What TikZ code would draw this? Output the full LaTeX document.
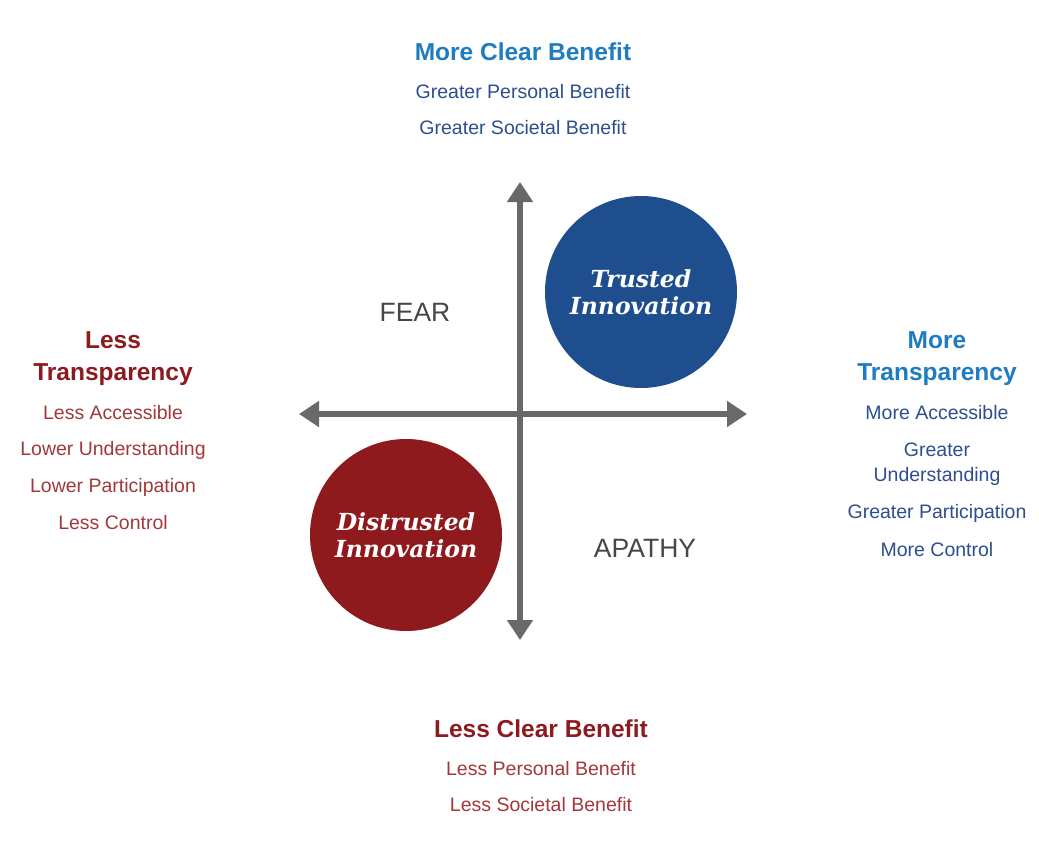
\documentclass[tikz,border=0pt]{standalone}
\usepackage{fontspec}
\setmainfont{Liberation Sans}
\newfontfamily\circfont{DejaVu Serif}
\usetikzlibrary{arrows.meta}
\definecolor{headblue}{HTML}{1F7CC0}
\definecolor{itemblue}{HTML}{2E4E8E}
\definecolor{headred}{HTML}{8B1B1F}
\definecolor{itemred}{HTML}{A3383B}
\definecolor{quadgray}{HTML}{464646}
\definecolor{axisgray}{HTML}{696969}
\definecolor{trustblue}{HTML}{1F4E8E}
\definecolor{distrustred}{HTML}{8F1A1E}
\begin{document}
\begin{tikzpicture}[x=1pt,y=-1pt,
        every node/.style={inner sep=0pt},
        heading/.style={font=\fontsize{24.5}{28}\selectfont\bfseries},
        item/.style={font=\fontsize{19.5}{22}\selectfont},
        quad/.style={font=\fontsize{26.5}{30}\selectfont,text=quadgray},
        innov/.style={circle,minimum size=192pt,text=white,align=center,
            font=\circfont\fontsize{23.5}{27}\selectfont\bfseries\itshape},
        axis/.style={draw=axisgray,line width=6pt,
            {Triangle[width=25pt,length=20pt]}-{Triangle[width=25pt,length=20pt]}}]
    \fill[white] (0,0) rectangle (1039,848);
    \useasboundingbox (0,0) rectangle (1039,848);
    % axes
    \coordinate (top) at (520,182);
    \coordinate (bottom) at (520,640);
    \coordinate (left) at (299,414);
    \coordinate (right) at (747,414);
    \draw[axis] (top) -- (bottom);
    \draw[axis] (left) -- (right);
    % quadrants
    \node[innov,fill=trustblue] (trusted) at (641,292) {Trusted\\Innovation};
    \node[innov,fill=distrustred] (distrusted) at (406,535) {Distrusted\\Innovation};
    \node[quad] (fear) at (415,312) {FEAR};
    \node[quad] (apathy) at (645,548) {APATHY};
    % top
    \node[heading,text=headblue] (moreben) at (523,52) {More Clear Benefit};
    \node[item,text=itemblue] (moreper) at (523,92) {Greater Personal Benefit};
    \node[item,text=itemblue] (moresoc) at (523,128) {Greater Societal Benefit};
    % bottom
    \node[heading,text=headred] (lessben) at (541,729) {Less Clear Benefit};
    \node[item,text=itemred] (lessper) at (541,769) {Less Personal Benefit};
    \node[item,text=itemred] (lesssoc) at (541,805) {Less Societal Benefit};
    % left
    \node[heading,text=headred] (lesstr1) at (113,340) {Less};
    \node[heading,text=headred] (lesstr2) at (113,375) {Transparency};
    \node[item,text=itemred] (lessacc) at (113,413) {Less Accessible};
    \node[item,text=itemred] (lowund) at (113,450) {Lower Understanding};
    \node[item,text=itemred] (lowpar) at (113,487) {Lower Participation};
    \node[item,text=itemred] (lessctl) at (113,523) {Less Control};
    % right
    \node[heading,text=headblue] (moretr1) at (937,340) {More};
    \node[heading,text=headblue] (moretr2) at (937,375) {Transparency};
    \node[item,text=itemblue] (moreacc) at (937,413) {More Accessible};
    \node[item,text=itemblue] (grund1) at (937,450) {Greater};
    \node[item,text=itemblue] (grund2) at (937,476) {Understanding};
    \node[item,text=itemblue] (grpar) at (937,513) {Greater Participation};
    \node[item,text=itemblue] (morectl) at (937,550) {More Control};
\end{tikzpicture}
\end{document}
